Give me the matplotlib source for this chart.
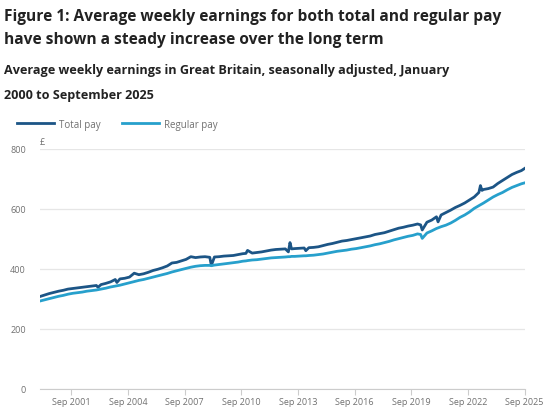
import numpy as np
import matplotlib
matplotlib.use("Agg")
import matplotlib.pyplot as plt
import matplotlib.dates as mdates

plt.rcParams['font.family'] = ['Open Sans', 'DejaVu Sans']

# months and average weekly earnings (GBP)
months = [
    "2000-01", "2000-04", "2000-07", "2000-10",
    "2001-01", "2001-04", "2001-07", "2001-10",
    "2002-01", "2002-04", "2002-07", "2002-10",
    "2003-01", "2003-02", "2003-04", "2003-07", "2003-10",
    "2004-01", "2004-02", "2004-04", "2004-07", "2004-10",
    "2005-01", "2005-04", "2005-07", "2005-10",
    "2006-01", "2006-04", "2006-07", "2006-10",
    "2007-01", "2007-04", "2007-07", "2007-10",
    "2008-01", "2008-04", "2008-07", "2008-10",
    "2009-01", "2009-02", "2009-04", "2009-07", "2009-10",
    "2010-01", "2010-04", "2010-07", "2010-10", "2010-12",
    "2011-01", "2011-04", "2011-07", "2011-10",
    "2012-01", "2012-04", "2012-07", "2012-10",
    "2013-01", "2013-03", "2013-04", "2013-05", "2013-07", "2013-10",
    "2014-01", "2014-02", "2014-04", "2014-07", "2014-10",
    "2015-01", "2015-04", "2015-07", "2015-10",
    "2016-01", "2016-04", "2016-07", "2016-10",
    "2017-01", "2017-04", "2017-07", "2017-10",
    "2018-01", "2018-04", "2018-07", "2018-10",
    "2019-01", "2019-04", "2019-07", "2019-10",
    "2020-01", "2020-03", "2020-04", "2020-07", "2020-10",
    "2021-01", "2021-02", "2021-04", "2021-07", "2021-10",
    "2022-01", "2022-04", "2022-07", "2022-10",
    "2023-01", "2023-04", "2023-05", "2023-06", "2023-07", "2023-10",
    "2024-01", "2024-04", "2024-07", "2024-10",
    "2025-01", "2025-04", "2025-07", "2025-09",
]

total_pay = [
    308, 313, 318, 322,
    326, 329, 333, 335,
    337, 339, 341, 343,
    345, 339, 348, 352, 357,
    365, 355, 367, 369, 373,
    386, 381, 384, 389,
    395, 399, 404, 410,
    420, 422, 427, 432,
    441, 438, 440, 441,
    439, 412, 440, 441, 443,
    444, 445, 448, 451, 452,
    462, 453, 455, 457,
    460, 463, 465, 466,
    467, 457, 488, 467, 468, 469,
    470, 461, 471, 472, 474,
    478, 482, 485, 489,
    493, 495, 498, 501,
    504, 507, 510, 515,
    518, 521, 526, 531,
    536, 539, 543, 546,
    550, 547, 530, 556, 563,
    574, 557, 580, 588, 596,
    605, 612, 620, 630,
    640, 655, 678, 662, 665, 668,
    673, 685, 695, 705,
    715, 722, 728, 735,
]

regular_pay = [
    293, 297, 301, 305,
    309, 312, 316, 319,
    321, 323, 326, 328,
    330, 331, 333, 336, 340,
    343, 344, 346, 350, 354,
    358, 362, 365, 369,
    373, 377, 381, 385,
    390, 394, 398, 402,
    406, 409, 411, 412,
    412, 411, 413, 415, 417,
    419, 421, 423, 426, 427,
    428, 430, 431, 433,
    435, 437, 438, 439,
    440, 441, 441, 442, 442, 443,
    444, 444, 445, 446, 448,
    450, 453, 456, 459,
    461, 463, 466, 468,
    471, 474, 477, 481,
    484, 488, 492, 497,
    501, 505, 509, 512,
    517, 515, 502, 520, 527,
    535, 537, 541, 546, 553,
    562, 572, 580, 590,
    602, 611, 614, 617, 620, 630,
    640, 648, 655, 664,
    672, 678, 684, 687,
]

tick_months = ["2001-09", "2004-09", "2007-09", "2010-09", "2013-09",
               "2016-09", "2019-09", "2022-09", "2025-09"]
y_ticks = [0, 200, 400, 600, 800]

dates = np.array(months, dtype="datetime64[M]").astype("datetime64[D]")
tick_dates = np.array(tick_months, dtype="datetime64[M]").astype("datetime64[D]")

dark_blue = "#1c5586"
light_blue = "#27a0cc"
grey_text = "#707070"

fig = plt.figure(figsize=(5.5, 4.14), dpi=100)
ax = fig.add_axes([0.0722, 0.058, 0.8816, 0.5797])

ax.plot(dates, total_pay, color=dark_blue, lw=2.0, label="Total pay", zorder=3)
ax.plot(dates, regular_pay, color=light_blue, lw=2.0, label="Regular pay", zorder=3)

ax.set_xlim(dates[0], dates[-1])
ax.set_ylim(0, 800)
ax.set_yticks(y_ticks)
ax.set_xticks(tick_dates)
ax.xaxis.set_major_formatter(mdates.DateFormatter("%b %Y"))

ax.grid(axis="y", color="#e6e6e6", lw=0.9)
ax.set_axisbelow(True)
for s in ["top", "right", "left"]:
    ax.spines[s].set_visible(False)
ax.spines["bottom"].set_color("#cccccc")
ax.tick_params(axis="y", length=0, pad=10, labelsize=6.5, labelcolor=grey_text)
ax.tick_params(axis="x", length=4, color="#cccccc", pad=2, labelsize=6.5,
               labelcolor=grey_text)

ax.text(0.0, 800 + 10, "£", fontsize=6.5, color=grey_text,
        transform=ax.get_yaxis_transform(), ha="left", va="bottom")

leg = fig.legend(loc="upper left", bbox_to_anchor=(0.015, 0.732), ncol=2,
                 frameon=False, fontsize=7, handlelength=3.8, columnspacing=2.2,
                 handletextpad=0.5)
for t in leg.get_texts():
    t.set_color(grey_text)

fig.text(0.007, 0.979, "Figure 1: Average weekly earnings for both total and regular pay\n"
         "have shown a steady increase over the long term",
         fontsize=11.2, fontweight="bold", color="#222222", va="top", ha="left",
         linespacing=1.6)
fig.text(0.007, 0.845, "Average weekly earnings in Great Britain, seasonally adjusted, January\n"
         "2000 to September 2025",
         fontsize=9.1, fontweight="bold", color="#222222", va="top", ha="left",
         linespacing=2.2)

fig.savefig("out.png", dpi=100)
